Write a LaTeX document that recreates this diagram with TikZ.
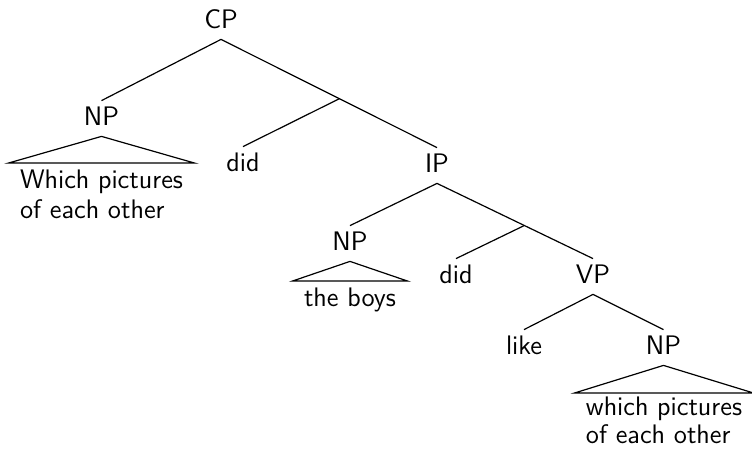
\documentclass[tikz,border=0pt]{standalone}
\usetikzlibrary{calc}
\begin{document}
\begin{tikzpicture}[x=0.5pt,y=-0.5pt,
  every node/.style={font=\fontsize{13.4}{15}\selectfont\sffamily},
  lbl/.style={anchor=base, inner sep=0pt, text height=12pt, text depth=5.5pt},
  leaf/.style={anchor=north, align=left, inner xsep=5.5pt, inner ysep=0pt},
  branch/.style={line width=0.6pt, line join=miter},
]
\useasboundingbox (0,0) rectangle (752,450);
% labels
\node[lbl] (CP)  at (221,28)  {CP};
\node[lbl] (NPa) at (101.5,125) {NP};
\node[lbl] (dida) at (243,171) {did};
\node[lbl] (IP)  at (437,172) {IP};
\node[lbl] (NPb) at (350,250) {NP};
\node[lbl] (didb) at (456,283) {did};
\node[lbl] (VP)  at (593,283) {VP};
\node[lbl] (like) at (524,354) {like};
\node[lbl] (NPc) at (663.5,354) {NP};
% leaves under triangles
\node[leaf] (ta) at (101.5,169) {Which pictures\\of each other};
\node[leaf] (tb) at (350,287) {the boys};
\node[leaf, font=\fontsize{13.4}{14}\selectfont\sffamily] (tc) at (664,396) {which pictures\\of each other};
% triangle base corners
\coordinate (ta-l) at (ta.north west |- 0,163);
\coordinate (ta-r) at (ta.north east |- 0,163);
\coordinate (tb-l) at (tb.north west |- 0,281);
\coordinate (tb-r) at (tb.north east |- 0,281);
\coordinate (tc-l) at (tc.north west |- 0,393);
\coordinate (tc-r) at (tc.north east |- 0,393);
% branch points
\coordinate (b1) at ($(CP.south)!0.548!(IP.north)$);
\coordinate (b2) at ($(IP.south)!0.56!(VP.north)$);
% connectors
\draw[branch] (CP.south) -- (NPa.north);
\draw[branch] (CP.south) -- (IP.north);
\draw[branch] (b1) -- (dida.north);
\draw[branch] (IP.south) -- (NPb.north);
\draw[branch] (IP.south) -- (VP.north);
\draw[branch] (b2) -- (didb.north);
\draw[branch] (VP.south) -- (like.north);
\draw[branch] (VP.south) -- (NPc.north);
% triangles
\draw[branch] (NPa.south) -- (ta-l) -- (ta-r) -- cycle;
\draw[branch] (NPb.south) -- (tb-l) -- (tb-r) -- cycle;
\draw[branch] (NPc.south) -- (tc-l) -- (tc-r) -- cycle;
\end{tikzpicture}
\end{document}
